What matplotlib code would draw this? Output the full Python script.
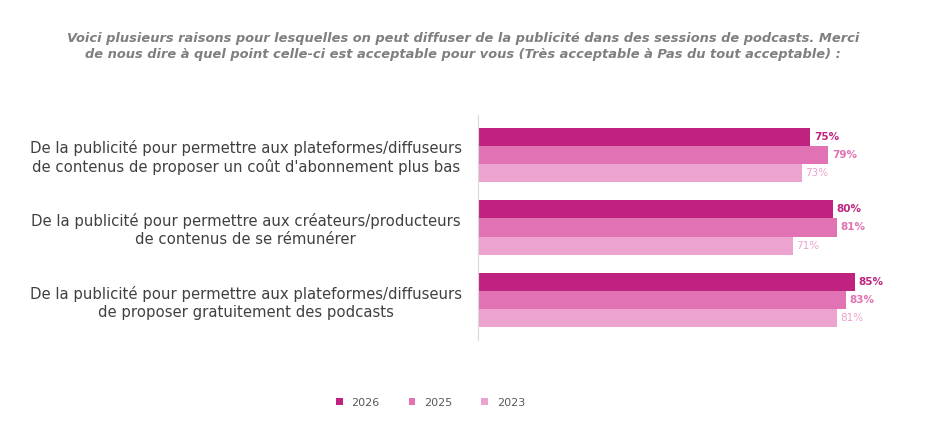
import matplotlib
matplotlib.use("Agg")
import matplotlib.pyplot as plt
import numpy as np

categories = [
    "De la publicité pour permettre aux plateformes/diffuseurs\nde contenus de proposer un coût d'abonnement plus bas",
    "De la publicité pour permettre aux créateurs/producteurs\nde contenus de se rémunérer",
    "De la publicité pour permettre aux plateformes/diffuseurs\nde proposer gratuitement des podcasts",
]
series_names = ["2026", "2025", "2023"]
values = {
    "2026": [75, 80, 85],
    "2025": [79, 81, 83],
    "2023": [73, 71, 81],
}
colors = {"2026": "#C0237F", "2025": "#E172B3", "2023": "#EDA3CF"}
label_weight = {"2026": "bold", "2025": "bold", "2023": "normal"}

fig = plt.figure(figsize=(9.26, 4.4), dpi=100)
ax = fig.add_axes([0.516, 0.227, 0.479, 0.512])

h = 0.25
y = np.arange(len(categories))
for i, s in enumerate(series_names):
    yy = y + (i - 1) * h
    ax.barh(yy, values[s], height=h, color=colors[s], label=s)
    for yi, v in zip(yy, values[s]):
        ax.text(v + 0.8, yi, f"{v}%", va="center", ha="left", fontsize=7.5,
                color=colors[s], fontweight=label_weight[s])

ax.set_xlim(0, 100)
ax.set_ylim(2.55, -0.55)
ax.set_yticks(y)
ax.set_yticklabels(categories, fontsize=10.7, color="#404040", ha="center")
ax.tick_params(axis="y", length=0, pad=167)
ax.set_xticks([])
for sp in ["top", "right", "bottom"]:
    ax.spines[sp].set_visible(False)
ax.spines["left"].set_color("#D9D9D9")

fig.text(0.5, 0.895,
         "Voici plusieurs raisons pour lesquelles on peut diffuser de la publicité dans des sessions de podcasts. Merci\n"
         "de nous dire à quel point celle-ci est acceptable pour vous (Très acceptable à Pas du tout acceptable) :",
         ha="center", va="center", fontsize=9.4, style="italic", fontweight="bold", color="#7F7F7F",
         linespacing=1.3)

fig.legend(loc="center", bbox_to_anchor=(0.465, 0.085), ncol=3, frameon=False,
           fontsize=8, handlelength=0.6, handleheight=0.6, columnspacing=2.6,
           labelcolor="#595959")

fig.savefig("out.png", dpi=100)
